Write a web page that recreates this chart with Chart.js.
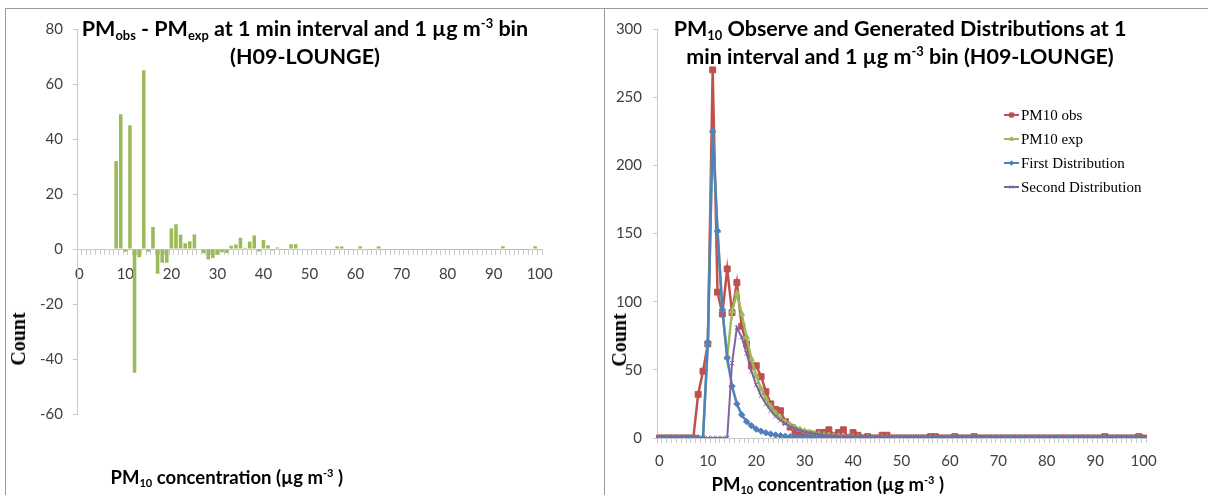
<!DOCTYPE html>
<html>
<head>
<meta charset="utf-8">
<title>PM10 observed vs generated distributions (H09-LOUNGE)</title>
<script src="https://cdn.jsdelivr.net/npm/chart.js@4/dist/chart.umd.min.js"></script>
<style>
  html, body { margin: 0; padding: 0; background: #ffffff; }
  body { position: relative; width: 1208px; height: 495px; overflow: hidden; font-family: Lato, "Open Sans", sans-serif; }
  canvas { position: absolute; top: 0; }
  .rule { position: absolute; background: #9a9a9a; z-index: 3; }
  .title, .axis-title, .count {
    position: absolute; font-weight: bold; color: #000; white-space: nowrap; z-index: 4;
  }
  .title { font-size: 21.5px; line-height: 28px; text-align: center; }
  .axis-title { font-size: 18.5px; line-height: 20px; }
  .count {
    font-family: "Liberation Serif", "DejaVu Serif", serif; font-size: 20px; line-height: 22px;
    transform: translate(-50%, -50%) rotate(-90deg);
  }
  sub, sup { font-size: 0.6em; line-height: 0; position: relative; vertical-align: baseline; }
  sub { top: 0.3em; }
  sup { top: -0.6em; }
</style>
</head>
<body>
<div class="rule" style="left:5px;top:8px;width:1203px;height:1px"></div>
<div class="rule" style="left:5px;top:8px;width:1px;height:487px"></div>
<div class="rule" style="left:604px;top:8px;width:1px;height:487px"></div>

<canvas id="diffChart" width="604" height="495" style="left:0"></canvas>
<canvas id="distChart" width="604" height="495" style="left:604px"></canvas>

<div class="title" style="left:5px;width:600px;top:14px">PM<sub>obs</sub> - PM<sub>exp</sub> at 1 min interval and 1 µg m<sup>-3</sup> bin<br>(H09-LOUNGE)</div>
<div class="title" style="left:600px;width:600px;top:14px">PM<sub>10</sub> Observe and Generated Distributions at 1<br>min interval and 1 µg m<sup>-3</sup> bin (H09-LOUNGE)</div>

<div class="axis-title" id="xTitleLeft" style="top:467px">PM<sub>10</sub> concentration (µg m<sup>-3</sup> )</div>
<div class="axis-title" id="xTitleRight" style="top:474px">PM<sub>10</sub> concentration (µg m<sup>-3</sup> )</div>

<div class="count" style="left:18px;top:339px">Count</div>
<div class="count" style="left:619px;top:340px">Count</div>

<script>
// PM10 concentration bins (1 µg m-3 wide), 0 … 100
const concentration = Array.from({ length: 101 }, (_, i) => String(i));

// Observed counts per bin
const pm10Obs = [
  0, 0, 0, 0, 0, 0, 0, 0, 32, 49,
  69, 270, 107, 91, 124, 92, 114, 82, 69, 53,
  53, 45, 34, 25, 21, 20, 12, 8, 4, 3,
  3, 3, 2, 4, 4, 6, 2, 4, 6, 0,
  4, 2, 0, 1, 0, 0, 2, 2, 0, 0,
  0, 0, 0, 0, 0, 0, 1, 1, 0, 0,
  0, 1, 0, 0, 0, 1, 0, 0, 0, 0,
  0, 0, 0, 0, 0, 0, 0, 0, 0, 0,
  0, 0, 0, 0, 0, 0, 0, 0, 0, 0,
  0, 0, 1, 0, 0, 0, 0, 0, 0, 1,
  0
];

// Expected counts (sum of the two fitted distributions)
const pm10Exp = [
  0, 0, 0, 0, 0, 0, 0, 0, 0, 0,
  70, 225, 152, 94, 59, 93, 106, 91, 74, 58,
  45.5, 36, 28.8, 22.9, 18.2, 14.7, 11.8, 9.5, 7.8, 6.3,
  5.1, 4.2, 3.45, 2.8, 2.35, 1.9, 1.57, 1.3, 1.07, 0.9,
  0.74, 0.63, 0.52, 0.44, 0.37, 0.32, 0.27, 0.24, 0.2, 0.18,
  0.16, 0.13, 0.12, 0.11, 0.1, 0.09, 0.07, 0.065, 0.06, 0.055,
  0.05, 0.045, 0.04, 0.04, 0.04, 0.035, 0.02, 0.02, 0.02, 0.02,
  0.02, 0.015, 0.015, 0.015, 0.015, 0.015, 0.015, 0.015, 0.015, 0.015,
  0.015, 0.01, 0.01, 0.01, 0.01, 0.01, 0.01, 0.01, 0.01, 0.01,
  0.01, 0.01, 0.01, 0.01, 0.01, 0.01, 0.01, 0.01, 0.01, 0.01,
  0.01
];

// First fitted distribution
const firstDist = [
  0, 0, 0, 0, 0, 0, 0, 0, 0, 0,
  70, 225, 152, 94, 59, 38, 25, 17, 12, 9,
  6.5, 5, 3.8, 2.9, 2.2, 1.7, 1.3, 1.0, 0.8, 0.6,
  0.5, 0.4, 0.35, 0.3, 0.25, 0.2, 0.17, 0.15, 0.12, 0.1,
  0.09, 0.08, 0.07, 0.06, 0.05, 0.05, 0.04, 0.04, 0.03, 0.03,
  0.03, 0.02, 0.02, 0.02, 0.02, 0.02, 0.01, 0.01, 0.01, 0.01,
  0.01, 0.01, 0.01, 0.01, 0.01, 0.01, 0, 0, 0, 0,
  0, 0, 0, 0, 0, 0, 0, 0, 0, 0,
  0, 0, 0, 0, 0, 0, 0, 0, 0, 0,
  0, 0, 0, 0, 0, 0, 0, 0, 0, 0,
  0
];

// Second fitted distribution
const secondDist = [
  0, 0, 0, 0, 0, 0, 0, 0, 0, 0,
  0, 0, 0, 0, 0, 55, 81, 74, 62, 49,
  39, 31, 25, 20, 16, 13, 10.5, 8.5, 7, 5.7,
  4.6, 3.8, 3.1, 2.5, 2.1, 1.7, 1.4, 1.15, 0.95, 0.8,
  0.65, 0.55, 0.45, 0.38, 0.32, 0.27, 0.23, 0.2, 0.17, 0.15,
  0.13, 0.11, 0.1, 0.09, 0.08, 0.07, 0.06, 0.055, 0.05, 0.045,
  0.04, 0.035, 0.03, 0.03, 0.03, 0.025, 0.02, 0.02, 0.02, 0.02,
  0.02, 0.015, 0.015, 0.015, 0.015, 0.015, 0.015, 0.015, 0.015, 0.015,
  0.015, 0.01, 0.01, 0.01, 0.01, 0.01, 0.01, 0.01, 0.01, 0.01,
  0.01, 0.01, 0.01, 0.01, 0.01, 0.01, 0.01, 0.01, 0.01, 0.01,
  0.01
];

// PMobs - PMexp per bin
const obsMinusExp = [
  0, 0, 0, 0, 0, 0, 0, 0, 32, 49,
  -1, 45, -45, -3, 65, -1, 8, -9, -5, -5,
  7.5, 9, 5.2, 2.1, 2.8, 5.3, 0.2, -1.5, -3.8, -3.3,
  -2.1, -1.2, -1.45, 1.2, 1.65, 4.1, 0.43, 2.7, 4.93, -0.9,
  3.26, 1.37, -0.52, 0.56, -0.37, -0.32, 1.73, 1.76, -0.2, -0.18,
  -0.16, -0.13, -0.12, -0.11, -0.1, -0.09, 0.93, 0.935, -0.06, -0.055,
  -0.05, 0.955, -0.04, -0.04, -0.04, 0.965, -0.02, -0.02, -0.02, -0.02,
  -0.02, -0.015, -0.015, -0.015, -0.015, -0.015, -0.015, -0.015, -0.015, -0.015,
  -0.015, -0.01, -0.01, -0.01, -0.01, -0.01, -0.01, -0.01, -0.01, -0.01,
  -0.01, -0.01, 0.99, -0.01, -0.01, -0.01, -0.01, -0.01, -0.01, 0.99,
  -0.01
];

const diffTicks = { min: -60, max: 80, step: 20 };
const distTicks = { min: 0, max: 300, step: 50 };

const COLORS = { obs: '#C0504D', exp: '#9BBB59', first: '#4F81BD', second: '#8064A2', bar: '#9BBB59' };
const AXIS_GREY = '#c9c9c9';
const TICK_FONT = { family: 'Lato, "Open Sans", sans-serif', size: 15 };
const TICK_COLOR = '#404040';

// label only every tenth bin
function decadeLabel(value, index) {
  return index % 10 === 0 ? this.getLabelForValue(value) : '';
}

// Key drawn inside the plot area: short line, marker, serif text
const seriesKey = {
  id: 'seriesKey',
  afterDraw(chart, args, opts) {
    if (!opts || !opts.show) return;
    const ctx = chart.ctx;
    ctx.save();
    ctx.font = opts.font;
    ctx.textBaseline = 'middle';
    ctx.textAlign = 'left';
    chart.data.datasets.forEach((ds, i) => {
      const y = opts.y + i * opts.rowGap;
      ctx.strokeStyle = ds.borderColor;
      ctx.lineWidth = 2;
      ctx.beginPath();
      ctx.moveTo(opts.x, y);
      ctx.lineTo(opts.x + opts.lineLen, y);
      ctx.stroke();
      ctx.fillStyle = ds.pointBackgroundColor;
      ctx.strokeStyle = ds.pointBorderColor;
      ctx.lineWidth = 1;
      Chart.helpers.drawPoint(ctx, {
        pointStyle: ds.pointStyle, radius: ds.pointRadius * 0.7, rotation: 0, borderWidth: 1
      }, opts.x + opts.lineLen / 2, y);
      ctx.fillStyle = '#000';
      ctx.fillText(ds.label, opts.x + opts.lineLen + 2, y + 1);
    });
    ctx.restore();
  }
};

function build() {
  Chart.defaults.font.family = TICK_FONT.family;

  new Chart(document.getElementById('diffChart'), {
    type: 'bar',
    data: {
      labels: concentration,
      datasets: [{
        label: 'PMobs - PMexp',
        data: obsMinusExp,
        backgroundColor: COLORS.bar,
        borderWidth: 0,
        barPercentage: 0.78,
        categoryPercentage: 1
      }]
    },
    options: {
      responsive: false,
      animation: false,
      events: [],
      layout: { padding: { left: 0, right: 62, top: 29, bottom: 81 } },
      plugins: { legend: { display: false }, tooltip: { enabled: false } },
      scales: {
        x: {
          type: 'category',
          position: { y: 0 },
          offset: true,
          grid: { display: true, offset: true, drawOnChartArea: false, drawTicks: true, tickLength: 5, color: AXIS_GREY, lineWidth: 1 },
          border: { display: true, color: AXIS_GREY, width: 1 },
          ticks: { autoSkip: false, maxRotation: 0, minRotation: 0, padding: 11, font: TICK_FONT, color: TICK_COLOR, callback: decadeLabel }
        },
        y: {
          min: diffTicks.min, max: diffTicks.max,
          afterFit: (s) => { s.width = 77; },
          grid: { display: true, drawOnChartArea: false, drawTicks: true, tickLength: 4, color: AXIS_GREY },
          border: { display: true, color: AXIS_GREY, width: 1 },
          ticks: { stepSize: diffTicks.step, padding: 10, font: TICK_FONT, color: TICK_COLOR }
        }
      }
    }
  });

  const lineSet = (label, data, color, style, radius, width, order) => ({
    label, data, order,
    borderColor: color, backgroundColor: color,
    pointBackgroundColor: color, pointBorderColor: color,
    pointStyle: style, pointRadius: radius, pointBorderWidth: 1,
    borderWidth: width, tension: 0, fill: false
  });

  new Chart(document.getElementById('distChart'), {
    type: 'line',
    data: {
      labels: concentration,
      datasets: [
        lineSet('PM10 obs', pm10Obs, COLORS.obs, 'rect', 4.2, 2.5, 4),
        lineSet('PM10 exp', pm10Exp, COLORS.exp, 'triangle', 3.4, 2.5, 3),
        lineSet('First Distribution', firstDist, COLORS.first, 'rectRot', 3.2, 2.5, 2),
        lineSet('Second Distribution', secondDist, COLORS.second, 'crossRot', 3.2, 2, 1)
      ]
    },
    options: {
      responsive: false,
      animation: false,
      events: [],
      layout: { padding: { left: 0, right: 62, top: 29, bottom: 0 } },
      plugins: {
        legend: { display: false },
        tooltip: { enabled: false },
        seriesKey: { show: true, x: 400, y: 115, rowGap: 24, lineLen: 15, font: '15px "Liberation Serif", "DejaVu Serif", serif' }
      },
      scales: {
        x: {
          type: 'category',
          offset: true,
          afterFit: (s) => { s.height = 57; },
          grid: { display: true, offset: true, drawOnChartArea: false, drawTicks: true, tickLength: 5, color: AXIS_GREY, lineWidth: 1 },
          border: { display: true, color: AXIS_GREY, width: 1 },
          ticks: { autoSkip: false, maxRotation: 0, minRotation: 0, padding: 9, font: TICK_FONT, color: TICK_COLOR, callback: decadeLabel }
        },
        y: {
          min: distTicks.min, max: distTicks.max,
          afterFit: (s) => { s.width = 53; },
          grid: { display: true, drawOnChartArea: false, drawTicks: true, tickLength: 4, color: AXIS_GREY },
          border: { display: true, color: AXIS_GREY, width: 1 },
          ticks: { stepSize: distTicks.step, padding: 11, font: TICK_FONT, color: TICK_COLOR }
        }
      }
    },
    plugins: [seriesKey]
  });

  // centre the x-axis titles on their measured spans
  const place = (id, centre) => {
    const el = document.getElementById(id);
    el.style.left = (centre - el.offsetWidth / 2) + 'px';
  };
  place('xTitleLeft', 227);
  place('xTitleRight', 828);
}

const fontsReady = document.fonts
  ? Promise.all([
      document.fonts.load('15px Lato'),
      document.fonts.load('bold 18px Lato'),
      document.fonts.load('15px "Liberation Serif"'),
      document.fonts.load('bold 20px "Liberation Serif"')
    ]).catch(() => {})
  : Promise.resolve();
fontsReady.then(build);
</script>
</body>
</html>
